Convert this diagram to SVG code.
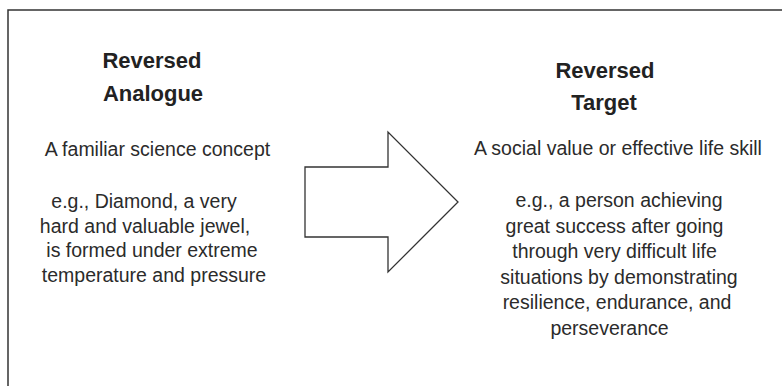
<svg xmlns="http://www.w3.org/2000/svg" width="782" height="386" viewBox="0 0 782 386">
  <style>
    .title { font-family: "Liberation Sans", Arial, sans-serif; font-weight: bold; font-size: 22px; fill: #222; text-anchor: middle; }
    .body { font-family: "Liberation Sans", Arial, sans-serif; font-size: 19.5px; fill: #2b2b2b; text-anchor: middle; }
    .frame { fill: none; stroke: #333; stroke-width: 1.5; }
    .block { fill: #fff; stroke: #333; stroke-width: 1.3; stroke-linejoin: miter; }
  </style>
  <rect width="782" height="386" fill="#fff"/>
  <path class="frame" d="M8,386 V10 H782"/>

  <g id="analogue">
    <text class="title" x="152" y="68">Reversed</text>
    <text class="title" x="153" y="101">Analogue</text>
    <text class="body" x="157.5" y="156">A familiar science concept</text>
    <text class="body" x="144" y="208">e.g., Diamond, a very</text>
    <text class="body" x="145" y="232.5">hard and valuable jewel,</text>
    <text class="body" x="152" y="257">is formed under extreme</text>
    <text class="body" x="154" y="281.5">temperature and pressure</text>
  </g>

  <g id="target">
    <text class="title" x="605" y="78">Reversed</text>
    <text class="title" x="604" y="110">Target</text>
    <text class="body" x="618" y="155">A social value or effective life skill</text>
    <text class="body" x="619" y="207">e.g., a person achieving</text>
    <text class="body" x="614.5" y="232.5">great success after going</text>
    <text class="body" x="614.5" y="258">through very difficult life</text>
    <text class="body" x="619" y="283.5">situations by demonstrating</text>
    <text class="body" x="617" y="309">resilience, endurance, and</text>
    <text class="body" x="609.5" y="334.5">perseverance</text>
  </g>

  <g id="connectors">
    <polygon class="block" points="305,167 388,167 388,132 458,202 388,272 388,237 305,237"/>
  </g>
</svg>
